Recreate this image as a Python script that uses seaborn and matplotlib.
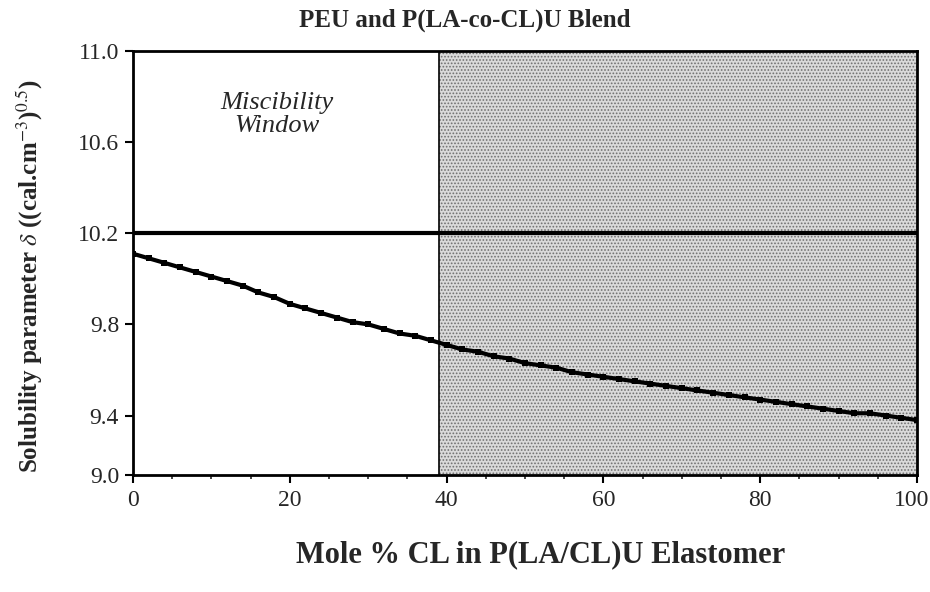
import pandas as pd
import seaborn as sns
import matplotlib.pyplot as plt
import matplotlib.transforms as mtransforms
import numpy as np

# mole % CL and solubility parameter
mole_cl = [0, 2, 4, 6, 8, 10, 12, 14, 16, 18, 20, 22, 24, 26, 28, 30, 32, 34, 36, 38,
           40, 42, 44, 46, 48, 50, 52, 54, 56, 58, 60, 62, 64, 66, 68, 70, 72, 74, 76, 78,
           80, 82, 84, 86, 88, 90, 92, 94, 96, 98, 100]
delta = [10.11, 10.09, 10.07, 10.05, 10.03, 10.01, 9.99, 9.97, 9.94, 9.92,
         9.89, 9.87, 9.85, 9.83, 9.81, 9.80, 9.78, 9.76, 9.75, 9.73,
         9.71, 9.69, 9.68, 9.66, 9.65, 9.63, 9.62, 9.61, 9.59, 9.58,
         9.57, 9.56, 9.55, 9.54, 9.53, 9.52, 9.51, 9.50, 9.49, 9.48,
         9.47, 9.46, 9.45, 9.44, 9.43, 9.42, 9.41, 9.41, 9.40, 9.39, 9.38]
peu_delta = 10.2
window_edge = 39

xticks = [0, 20, 40, 60, 80, 100]
# the bottom of the original axis is squeezed: its "9.0" label sits at the frame
yticks = [9.14, 9.4, 9.8, 10.2, 10.6, 11.0]
ytick_labels = ['9.0', '9.4', '9.8', '10.2', '10.6', '11.0']

df = pd.DataFrame({'mole_cl': mole_cl, 'delta': delta})

sns.set_style('ticks')
plt.rcParams['font.family'] = ['Liberation Serif', 'DejaVu Serif']
plt.rcParams['mathtext.fontset'] = 'stix'
plt.rcParams['hatch.linewidth'] = 0.8

fig = plt.figure(figsize=(9.3, 5.92), dpi=100)
ax = fig.add_axes([0.143, 0.198, 0.843, 0.716])

# shaded (immiscible) region
ax.axvspan(window_edge, 100, facecolor='#dadada', edgecolor='#707070',
           hatch='.....', linewidth=0, zorder=0)
ax.axvline(window_edge, color='black', lw=1.2, zorder=1)

ax.axhline(peu_delta, color='black', lw=3, zorder=2)

sns.lineplot(data=df, x='mole_cl', y='delta', color='black', lw=3,
             marker='s', markersize=4.5, markeredgewidth=0, ax=ax, zorder=3)

ax.text(18.4, 10.72, 'Miscibility\nWindow', ha='center', va='center',
        fontsize=19, style='italic', linespacing=1.05)

ax.set_xlim(0, 100)
ax.set_ylim(yticks[0], 11.0)
ax.set_xticks(xticks)
ax.set_xticks(np.arange(0, 101, 5), minor=True)
ax.set_yticks(yticks)
ax.set_yticklabels(ytick_labels)
ax.tick_params(axis='both', labelsize=17, width=1.5, length=6, color='black')
ax.tick_params(axis='x', pad=5)
ax.tick_params(axis='y', pad=4)
ax.tick_params(axis='x', which='minor', width=1.2, length=3)

# keep the "100" inside the figure, as in the original
last = ax.get_xticklabels()[-1]
last.set_horizontalalignment('right')
last.set_transform(last.get_transform() + mtransforms.ScaledTranslation(12 / 100, 0, fig.dpi_scale_trans))

for s in ax.spines.values():
    s.set_linewidth(2)
    s.set_color('black')

ax.set_xlabel('Mole % CL in P(LA/CL)U Elastomer', fontsize=22, fontweight='bold')
ax.xaxis.set_label_coords(0.52, -0.155)
ax.set_ylabel(r'Solubility parameter $\delta$ ((cal.cm$^{-3}$)$^{0.5}$)',
              fontsize=18, fontweight='bold')
ax.yaxis.set_label_coords(-0.112, 0.47)
fig.text(0.5, 1 - 20 / 592, 'PEU and P(LA-co-CL)U Blend', ha='center', va='center',
         fontsize=18, fontweight='bold')

fig.savefig('out.png', dpi=100)
